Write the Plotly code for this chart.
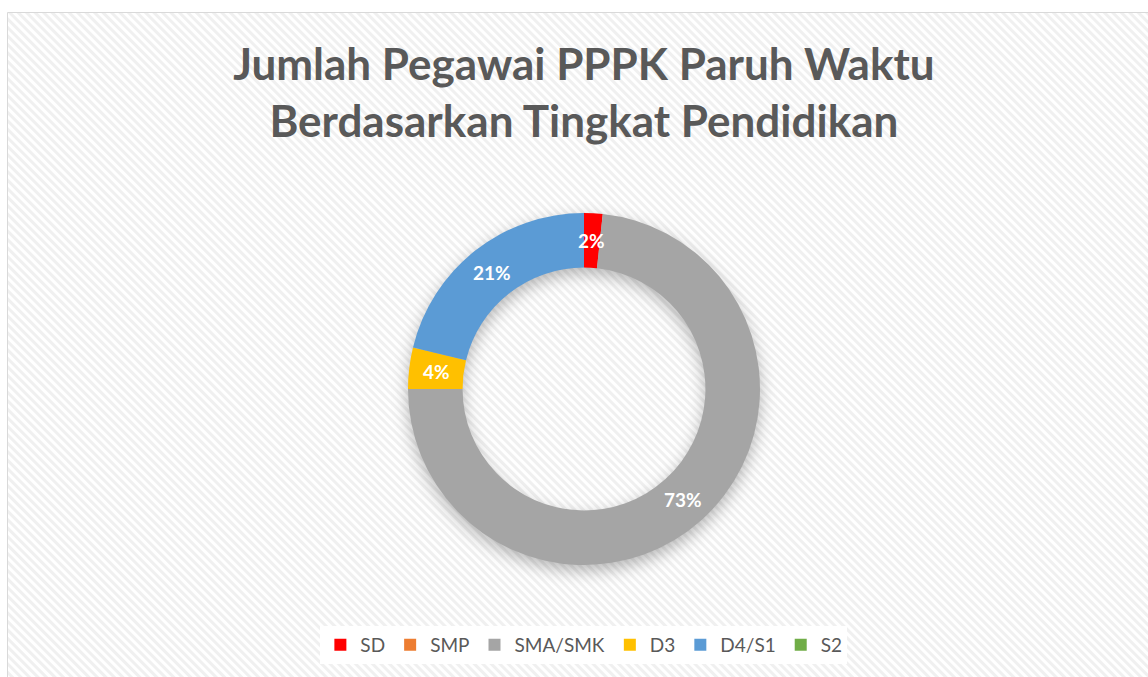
import base64
import math
import plotly.graph_objects as go

# ---- data ----
categories = ["SD", "SMP", "SMA/SMK", "D3", "D4/S1", "S2"]
values = [1.7, 0, 73.3, 3.8, 21.2, 0]
colors = ["#FF0000", "#ED7D31", "#A5A5A5", "#FFC000", "#5B9BD5", "#70AD47"]
title_lines = ["Jumlah Pegawai PPPK Paruh Waktu", "Berdasarkan Tingkat Pendidikan"]

W, H = 1148, 677
FONT = "Lato"

# hatched background as an svg pattern
bg_svg = (
    '<svg xmlns="http://www.w3.org/2000/svg" width="1200" height="700">'
    '<defs><pattern id="p" width="6" height="6" patternUnits="userSpaceOnUse" '
    'patternTransform="rotate(-45)"><rect width="6" height="6" fill="#ffffff"/>'
    '<rect width="3" height="6" fill="#f0f0f0"/></pattern></defs>'
    '<rect width="1200" height="700" fill="url(#p)"/></svg>'
)
bg_uri = "data:image/svg+xml;base64," + base64.b64encode(bg_svg.encode()).decode()

# ring geometry (pixels)
cx, cy, R = 584, 389, 176
hole = 0.69
S = 480
ring_r = R * (1 + hole) / 2
ring_w = R * (1 - hole)
sh_svg = (
    f'<svg xmlns="http://www.w3.org/2000/svg" width="{S}" height="{S}">'
    '<defs><filter id="b" x="-50%" y="-50%" width="200%" height="200%">'
    '<feGaussianBlur stdDeviation="8"/></filter></defs>'
    f'<circle cx="{S/2}" cy="{S/2}" r="{ring_r}" fill="none" stroke="#000" '
    f'stroke-opacity="0.28" stroke-width="{ring_w}" filter="url(#b)"/></svg>'
)
sh_uri = "data:image/svg+xml;base64," + base64.b64encode(sh_svg.encode()).decode()

fig = go.Figure(
    go.Pie(
        labels=categories,
        values=values,
        marker=dict(colors=colors, line=dict(width=0)),
        hole=hole,
        sort=False,
        direction="clockwise",
        rotation=0,
        textinfo="none",
        domain=dict(x=[(cx - R) / W, (cx + R) / W], y=[(H - cy - R) / H, (H - cy + R) / H]),
        showlegend=True,
    )
)

# percentage labels at the middle of each slice's ring, computed from the values
total = sum(values)
annotations = []
cum = 0.0
for v in values:
    if v > 0:
        mid = (cum + v / 2) / total
        ang = 2 * math.pi * mid
        px = cx + ring_r * math.sin(ang)
        py = cy - ring_r * math.cos(ang)
        annotations.append(dict(
            x=px / W, y=1 - py / H, xref="paper", yref="paper",
            text="<b>%d%%</b>" % round(100 * v / total), showarrow=False,
            font=dict(family=FONT, size=19, color="white"),
            xanchor="center", yanchor="middle",
        ))
    cum += v

fig.update_layout(
    width=W,
    height=H,
    margin=dict(l=0, r=0, t=0, b=0),
    paper_bgcolor="white",
    plot_bgcolor="white",
    annotations=annotations,
    title=dict(
        text="<b>" + title_lines[0] + "</b><br><b>" + title_lines[1] + "</b>",
        x=0.5086,
        xanchor="center",
        y=1 - 80 / H,
        yanchor="top",
        font=dict(family=FONT, size=44, color="#595959"),
    ),
    legend=dict(
        orientation="h",
        x=0.5086,
        xanchor="center",
        y=(H - 645) / H,
        yanchor="middle",
        bgcolor="white",
        font=dict(family=FONT, size=19, color="#595959"),
        itemclick=False,
        traceorder="normal",
    ),
    images=[
        dict(source=bg_uri, xref="paper", yref="paper", x=8 / W, y=1 - 13 / H,
             sizex=1200 / W, sizey=700 / H, xanchor="left", yanchor="top",
             sizing="stretch", layer="below"),
        dict(source=sh_uri, xref="paper", yref="paper", x=(cx - S / 2) / W, y=1 - (cy + 6 - S / 2) / H,
             sizex=S / W, sizey=S / H, xanchor="left", yanchor="top",
             sizing="stretch", layer="below"),
    ],
    shapes=[
        dict(type="rect", xref="paper", yref="paper", x0=7.5 / W, x1=1.2, y0=-0.2, y1=1 - 12.5 / H,
             line=dict(color="#d9d9d9", width=1), fillcolor="rgba(0,0,0,0)", layer="below"),
    ],
)

fig.write_html("out.html")
